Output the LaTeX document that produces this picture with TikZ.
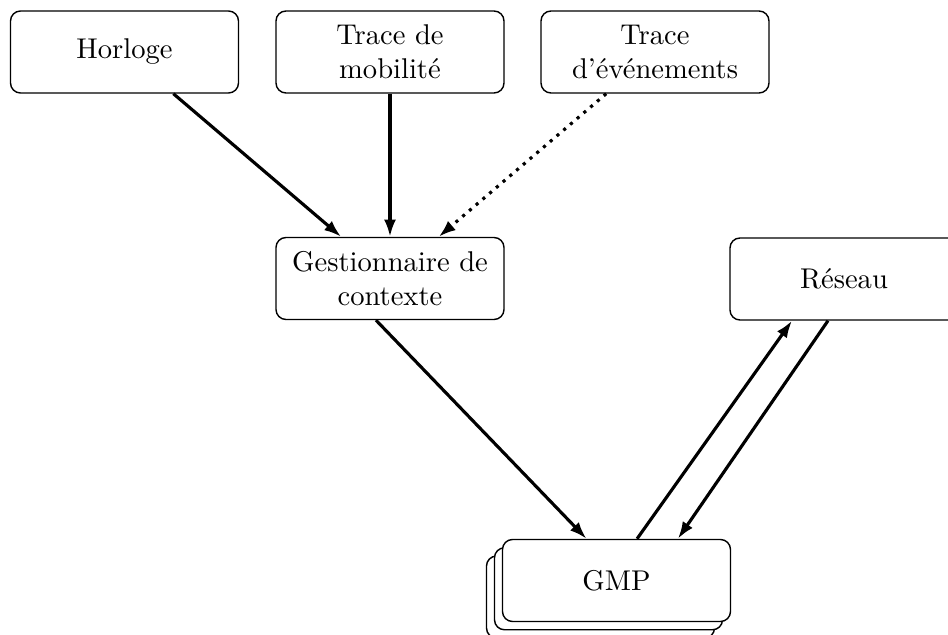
\documentclass[tikz,border=0pt]{standalone}
\usetikzlibrary{arrows.meta,shadows}
\begin{document}
\begin{tikzpicture}[x=0.35pt,y=-0.35pt,
  box/.style={draw, line width=0.5pt, rounded corners=3.5pt, fill=white,
    minimum width=79.8pt, minimum height=28.7pt, align=center, inner sep=0pt},
  arr/.style={line width=1.1pt, -{Latex[length=6pt,width=4.2pt]}},
  stackbox/.style={box, double copy shadow={shadow xshift=-2.8pt, shadow yshift=-2.9pt, draw, line width=0.5pt}}]
\useasboundingbox (0,0) rectangle (948,635);
\node[box] (horloge) at (124.5,52) {Horloge};
\node[box] (mob) at (390,52) {Trace de\\mobilité};
\node[box] (evt) at (655,52) {Trace\\d’événements};
\node[box] (gest) at (390,278.5) {Gestionnaire de\\contexte};
\node[box] (reseau) at (844,279) {Réseau};
\node[stackbox] (gmp) at (616.5,580.5) {GMP};
\draw[arr] (horloge) -- (gest);
\draw[arr] (mob) -- (gest);
\draw[arr, dotted] (evt) -- (gest);
\draw[arr] ([xshift=-4.9pt]gest.south) -- ([xshift=-10.5pt]gmp.north);
\draw[arr] ([xshift=7.2pt]gmp.north) -- ([xshift=-18.2pt]reseau.south);
\draw[arr] ([xshift=-5.6pt]reseau.south) -- ([xshift=21.5pt]gmp.north);
\end{tikzpicture}
\end{document}
